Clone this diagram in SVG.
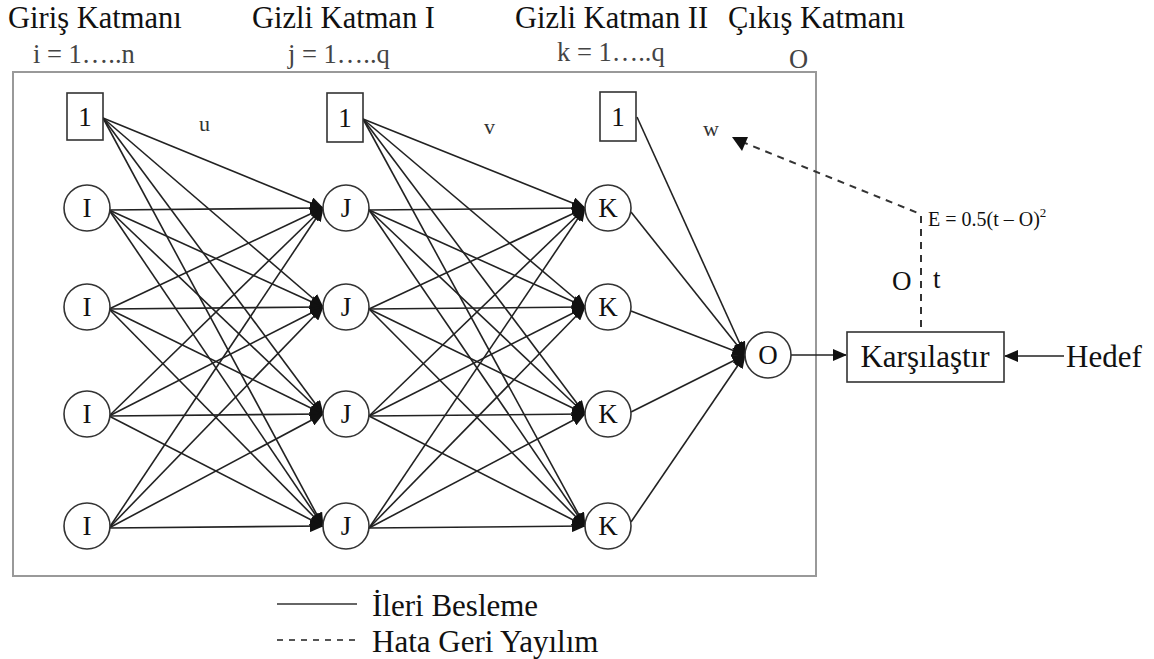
<svg xmlns="http://www.w3.org/2000/svg" width="1154" height="659" viewBox="0 0 1154 659" font-family="'Liberation Serif', 'Times New Roman', serif">
  <style>
    text { fill: #111; }
    .title { font-size: 30.5px; }
    .idx { font-size: 26.5px; fill: #444; }
    .lbl { font-size: 27px; }
    .big { font-size: 31px; }
    .wt { font-size: 22px; fill: #333; }
    .node { fill: #fff; stroke: #333; stroke-width: 1.6; }
    .edge { stroke: #222; stroke-width: 1.6; fill: none; marker-end: url(#ah); }
    .back { stroke: #333; stroke-width: 2; fill: none; stroke-dasharray: 7 6; }
  </style>
  <defs>
    <marker id="ah" markerUnits="userSpaceOnUse" markerWidth="14" markerHeight="12" refX="13" refY="6" orient="auto">
      <path d="M0,0 L14,6 L0,12 z" fill="#111"/>
    </marker>
  </defs>

  <rect width="1154" height="659" fill="#fff"/>

  <!-- frame around the network -->
  <rect x="13" y="72" width="803" height="504" fill="none" stroke="#999" stroke-width="2"/>

  <!-- layer headings -->
  <text class="title" x="8" y="28">Giriş Katmanı</text>
  <text class="title" x="252" y="28">Gizli Katman I</text>
  <text class="title" x="515" y="28">Gizli Katman II</text>
  <text class="title" x="728" y="28">Çıkış Katmanı</text>
  <text class="idx" x="33" y="63">i = 1…..n</text>
  <text class="idx" x="288" y="63">j = 1…..q</text>
  <text class="idx" x="557" y="61">k = 1…..q</text>
  <text class="idx" x="789" y="68">O</text>

  <!-- weight labels -->
  <text class="wt" x="199" y="131">u</text>
  <text class="wt" x="484" y="134">v</text>
  <text class="wt" x="703" y="136">w</text>

  <!-- connectors -->
  <g id="connectors">
    <!-- input layer to hidden layer I -->
    <line class="edge" x1="103" y1="118" x2="323" y2="208"/>
    <line class="edge" x1="103" y1="118" x2="323" y2="307"/>
    <line class="edge" x1="103" y1="118" x2="323" y2="414"/>
    <line class="edge" x1="103" y1="118" x2="323" y2="526"/>
    <line class="edge" x1="109" y1="210" x2="323" y2="208"/>
    <line class="edge" x1="109" y1="210" x2="323" y2="307"/>
    <line class="edge" x1="109" y1="210" x2="323" y2="414"/>
    <line class="edge" x1="109" y1="210" x2="323" y2="526"/>
    <line class="edge" x1="109" y1="309" x2="323" y2="208"/>
    <line class="edge" x1="109" y1="309" x2="323" y2="307"/>
    <line class="edge" x1="109" y1="309" x2="323" y2="414"/>
    <line class="edge" x1="109" y1="309" x2="323" y2="526"/>
    <line class="edge" x1="109" y1="416" x2="323" y2="208"/>
    <line class="edge" x1="109" y1="416" x2="323" y2="307"/>
    <line class="edge" x1="109" y1="416" x2="323" y2="414"/>
    <line class="edge" x1="109" y1="416" x2="323" y2="526"/>
    <line class="edge" x1="109" y1="528" x2="323" y2="208"/>
    <line class="edge" x1="109" y1="528" x2="323" y2="307"/>
    <line class="edge" x1="109" y1="528" x2="323" y2="414"/>
    <line class="edge" x1="109" y1="528" x2="323" y2="526"/>
    <!-- hidden layer I to hidden layer II -->
    <line class="edge" x1="363" y1="119" x2="585" y2="208"/>
    <line class="edge" x1="363" y1="119" x2="585" y2="307"/>
    <line class="edge" x1="363" y1="119" x2="585" y2="414"/>
    <line class="edge" x1="363" y1="119" x2="585" y2="526"/>
    <line class="edge" x1="369" y1="210" x2="585" y2="208"/>
    <line class="edge" x1="369" y1="210" x2="585" y2="307"/>
    <line class="edge" x1="369" y1="210" x2="585" y2="414"/>
    <line class="edge" x1="369" y1="210" x2="585" y2="526"/>
    <line class="edge" x1="369" y1="309" x2="585" y2="208"/>
    <line class="edge" x1="369" y1="309" x2="585" y2="307"/>
    <line class="edge" x1="369" y1="309" x2="585" y2="414"/>
    <line class="edge" x1="369" y1="309" x2="585" y2="526"/>
    <line class="edge" x1="369" y1="416" x2="585" y2="208"/>
    <line class="edge" x1="369" y1="416" x2="585" y2="307"/>
    <line class="edge" x1="369" y1="416" x2="585" y2="414"/>
    <line class="edge" x1="369" y1="416" x2="585" y2="526"/>
    <line class="edge" x1="369" y1="528" x2="585" y2="208"/>
    <line class="edge" x1="369" y1="528" x2="585" y2="307"/>
    <line class="edge" x1="369" y1="528" x2="585" y2="414"/>
    <line class="edge" x1="369" y1="528" x2="585" y2="526"/>
    <!-- hidden layer II to output -->
    <line class="edge" x1="637" y1="117" x2="745" y2="355"/>
    <line class="edge" x1="631" y1="212" x2="745" y2="355"/>
    <line class="edge" x1="631" y1="311" x2="745" y2="355"/>
    <line class="edge" x1="631" y1="412" x2="745" y2="355"/>
    <line class="edge" x1="631" y1="522" x2="745" y2="355"/>
    <!-- output to comparator, target to comparator -->
    <line class="edge" x1="791" y1="355" x2="846" y2="355"/>
    <line class="edge" x1="1064" y1="356" x2="1005" y2="356"/>
    <!-- error back-propagation -->
    <path class="back" d="M921,327 L921,216 L918,213 L745,143"/>
    <path d="M732,137 L748,137 L742,151 z" fill="#111"/>
  </g>

  <!-- input layer -->
  <g id="in-bias"><rect class="node" x="67" y="93" width="36" height="47"/><text class="lbl" x="85" y="126" text-anchor="middle">1</text></g>
  <g id="in-1"><circle class="node" cx="87" cy="208" r="23"/><text class="lbl" x="87" y="217" text-anchor="middle">I</text></g>
  <g id="in-2"><circle class="node" cx="87" cy="307" r="23"/><text class="lbl" x="87" y="316" text-anchor="middle">I</text></g>
  <g id="in-3"><circle class="node" cx="87" cy="414" r="23"/><text class="lbl" x="87" y="423" text-anchor="middle">I</text></g>
  <g id="in-4"><circle class="node" cx="87" cy="526" r="23"/><text class="lbl" x="87" y="535" text-anchor="middle">I</text></g>

  <!-- hidden layer I -->
  <g id="h1-bias"><rect class="node" x="327" y="93" width="36" height="49"/><text class="lbl" x="345" y="127" text-anchor="middle">1</text></g>
  <g id="h1-1"><circle class="node" cx="346" cy="208" r="23"/><text class="lbl" x="346" y="217" text-anchor="middle">J</text></g>
  <g id="h1-2"><circle class="node" cx="346" cy="307" r="23"/><text class="lbl" x="346" y="316" text-anchor="middle">J</text></g>
  <g id="h1-3"><circle class="node" cx="346" cy="414" r="23"/><text class="lbl" x="346" y="423" text-anchor="middle">J</text></g>
  <g id="h1-4"><circle class="node" cx="346" cy="526" r="23"/><text class="lbl" x="346" y="535" text-anchor="middle">J</text></g>

  <!-- hidden layer II -->
  <g id="h2-bias"><rect class="node" x="600" y="92" width="36" height="49"/><text class="lbl" x="618" y="126" text-anchor="middle">1</text></g>
  <g id="h2-1"><circle class="node" cx="608" cy="208" r="23"/><text class="lbl" x="608" y="217" text-anchor="middle">K</text></g>
  <g id="h2-2"><circle class="node" cx="608" cy="307" r="23"/><text class="lbl" x="608" y="316" text-anchor="middle">K</text></g>
  <g id="h2-3"><circle class="node" cx="608" cy="414" r="23"/><text class="lbl" x="608" y="423" text-anchor="middle">K</text></g>
  <g id="h2-4"><circle class="node" cx="608" cy="526" r="23"/><text class="lbl" x="608" y="535" text-anchor="middle">K</text></g>

  <!-- output -->
  <g id="out"><circle class="node" cx="768" cy="355" r="23"/><text class="lbl" x="768" y="364" text-anchor="middle">O</text></g>

  <!-- comparator and target -->
  <g id="compare"><rect class="node" x="847" y="332" width="157" height="50" stroke-width="2.2"/><text class="big" x="925" y="367" text-anchor="middle">Karşılaştır</text></g>
  <g id="target"><text class="big" x="1066" y="367">Hedef</text></g>

  <!-- error labels -->
  <g id="error">
    <text x="928" y="226" font-size="20" fill="#333">E = 0.5(t – O)<tspan font-size="13" dy="-9">2</tspan></text>
    <text x="892" y="290" font-size="27" fill="#333">O</text>
    <text x="933" y="288" font-size="27" fill="#333">t</text>
  </g>

  <!-- legend -->
  <g id="legend">
    <line x1="277" y1="604" x2="357" y2="604" stroke="#666" stroke-width="2.2"/>
    <text x="372" y="616" font-size="31">İleri Besleme</text>
    <line x1="277" y1="640" x2="357" y2="640" stroke="#555" stroke-width="2" stroke-dasharray="6 6"/>
    <text x="372" y="652" font-size="31">Hata Geri Yayılım</text>
  </g>
</svg>
